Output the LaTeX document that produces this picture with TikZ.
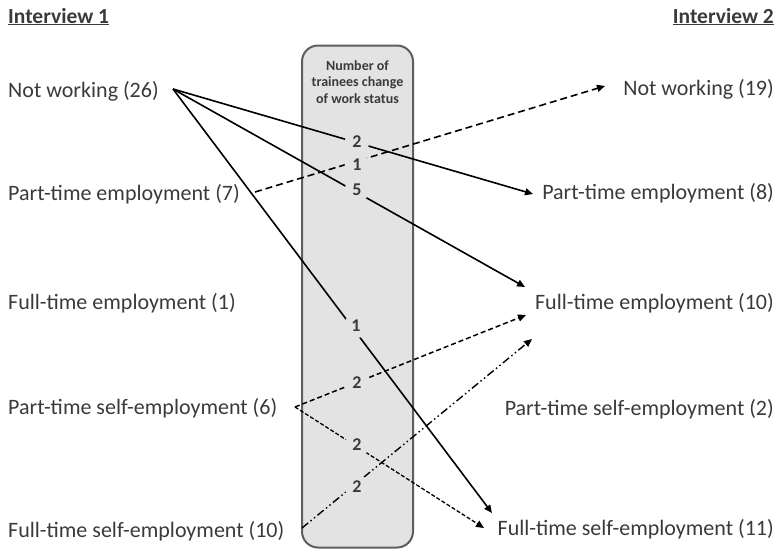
\documentclass[tikz,border=0pt]{standalone}
\usepackage{fontspec}
\setmainfont{Carlito}
\usetikzlibrary{arrows.meta,calc}
\definecolor{txt}{HTML}{3A3A3A}
\definecolor{boxfill}{HTML}{E3E3E3}
\definecolor{boxline}{HTML}{5E5E5E}
\begin{document}
\begin{tikzpicture}[x=1pt,y=-1pt,
  lbl/.style={font=\fontsize{22}{26}\selectfont, text=txt, inner sep=0pt},
  head/.style={font=\bfseries\fontsize{21.5}{24}\selectfont, text=txt, inner sep=0pt},
  num/.style={circle, font=\bfseries\fontsize{18}{20}\selectfont, text=txt, fill=boxfill, inner sep=3.5pt},
  tip/.style={-{Triangle[length=8pt,width=7pt]}},
  flow/.style={line width=1.6pt, tip},
  dashA/.style={line width=1.6pt, tip, dash pattern=on 7pt off 4pt},
  dashB/.style={line width=1.5pt, tip, dash pattern=on 5pt off 3pt},
  dashC/.style={line width=1.3pt, tip, dash pattern=on 4pt off 2pt},
  dashD/.style={line width=1.4pt, tip, dash pattern=on 8pt off 3pt on 1.5pt off 3pt on 1.5pt off 3pt}]
\useasboundingbox (0,0) rectangle (778,550);
% headings
\node[head, anchor=base west] (h1) at (8,23) {\underline{Interview 1}};
\node[head, anchor=base east] (h2) at (774,23) {\underline{Interview 2}};
% central box
\node[draw=boxline, fill=boxfill, line width=2pt, rounded corners=16pt,
      minimum width=111pt, minimum height=502pt] (box) at (357.5,296.5) {};
\node[font=\bfseries\fontsize{14}{16.5}\selectfont, align=center, text=txt] (title) at (357.5,82) {Number of\\trainees change\\of work status};
% left labels
\node[lbl, anchor=base west] (L1) at (8,97) {Not working (26)};
\node[lbl, anchor=base west] (L2) at (8,200) {Part-time employment (7)};
\node[lbl, anchor=base west] (L3) at (8,309) {Full-time employment (1)};
\node[lbl, anchor=base west] (L4) at (8,414) {Part-time self-employment (6)};
\node[lbl, anchor=base west] (L5) at (8,537) {Full-time self-employment (10)};
% right labels
\node[lbl, anchor=base east] (R1) at (774,95) {Not working (19)};
\node[lbl, anchor=base east] (R2) at (774,199) {Part-time employment (8)};
\node[lbl, anchor=base east] (R3) at (774,309) {Full-time employment (10)};
\node[lbl, anchor=base east] (R4) at (774,415) {Part-time self-employment (2)};
\node[lbl, anchor=base east] (R5) at (774,535) {Full-time self-employment (11)};
% connector ends
\coordinate (o1) at (173,89);
\coordinate (o2) at (255,192);
\coordinate (o4) at (295,407);
\coordinate (o5) at (302,528);
\coordinate (t1) at (605,86);
\coordinate (t2) at (533,194);
\coordinate (t3a) at (525,287);
\coordinate (t3b) at (526,315);
\coordinate (t3c) at (532,339);
\coordinate (t5a) at (492,513);
\coordinate (t5b) at (484,528);
% connectors
\draw[flow] (o1) -- (t2);
\draw[flow] (o1) -- (t3a);
\draw[flow] (o1) -- (t5a);
\draw[dashA] (o2) -- (t1);
\draw[dashB] (o4) -- (t3b);
\draw[dashC] (o4) -- (t5b);
\draw[dashD] (o5) -- (t3c);
% numbers
\node[num] (n1) at (357,142) {2};
\node[num] (n2) at (357,165) {1};
\node[num] (n3) at (357,190) {5};
\node[num] (n4) at (356,326) {1};
\node[num] (n5) at (357,383) {2};
\node[num] (n6) at (357,445) {2};
\node[num] (n7) at (357,487) {2};
\end{tikzpicture}
\end{document}
